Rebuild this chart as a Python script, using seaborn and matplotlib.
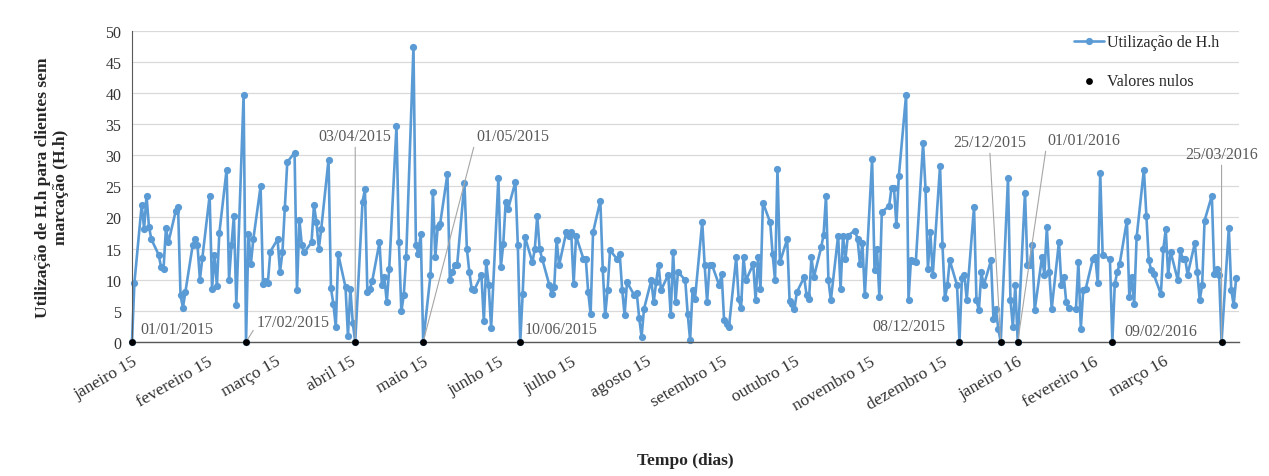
import numpy as np
import pandas as pd
import seaborn as sns
import matplotlib.pyplot as plt

sns.set_style("white")
plt.rcParams['font.family'] = ['Liberation Serif', 'DejaVu Serif']

# Utilizacao de H.h por dia util (seg-sex), um vetor por mes
jan15 = [0, 9.5, 22, 18.2, 23.5, 18.5, 16.5, 14, 12, 11.7, 18.3, 16, 21, 21.7, 7.5, 5.5, 8, 15.5, 16.5, 15.5, 10, 13.5]
fev15 = [23.5, 8.5, 14, 9, 17.5, 27.7, 10, 15.5, 20.3, 6, 39.7, 0, 17.3, 12.5, 16.5, 25, 9.3, 9.8, 9.5, 14.5]
mar15 = [16.5, 11.2, 14.4, 21.5, 28.9, 30.4, 8.3, 19.6, 15.5, 14.4, 16, 22, 19.3, 15, 18.2, 29.3, 8.6, 6.1, 2.4, 14.1, 8.8, 1]
abr15 = [8.5, 3, 0, 22.5, 24.5, 8, 8.5, 9.8, 16, 9.1, 10.4, 6.4, 11.7, 34.7, 16, 4.9, 7.5, 13.6, 47.4, 15.6, 14.1, 17.4]
mai15 = [0, 10.7, 24.1, 13.6, 18.5, 19, 27, 9.9, 11.2, 12.3, 12.4, 25.6, 15, 11.3, 8.5, 8.3, 10.8, 3.3, 12.8, 9.1, 2.2]
jun15 = [26.4, 12, 15.7, 22.5, 21.4, 25.7, 15.6, 0, 7.7, 16.8, 12.8, 14.9, 20.3, 14.9, 13.4, 9.1, 7.7, 8.8, 16.4, 12.3, 17.7, 17.1]
jul15 = [17.6, 9.3, 17, 13.4, 13.4, 8, 4.5, 17.6, 22.7, 11.7, 4.3, 8.4, 14.7, 13.3, 14.1, 8.4, 4.3, 9.6, 7.5, 7.9, 3.9, 0.8, 5.3]
ago15 = [9.9, 6.4, 9.6, 12.4, 8.3, 10.8, 4.3, 14.4, 6.4, 11.3, 9.9, 4.5, 0.3, 8.3, 6.9, 19.3, 12.3, 6.4, 12.3, 12.4, 9.1]
set15 = [10.9, 3.5, 2.9, 2.4, 13.6, 6.9, 5.4, 13.6, 9.9, 12.5, 6.7, 13.6, 8.5, 22.4, 19.2, 14.1, 9.9, 27.8, 12.8, 16.5, 6.6, 6.1]
out15 = [5.3, 8, 10.4, 7.5, 6.9, 13.6, 10.4, 15.2, 17.2, 23.5, 9.9, 6.7, 17.1, 8.5, 17.1, 13.3, 17.1, 17.9, 16.5, 12.5, 15.9, 7.5]
nov15 = [29.4, 11.5, 14.9, 7.2, 20.9, 21.8, 24.8, 24.8, 18.8, 26.6, 39.7, 6.8, 13.1, 13, 12.8, 31.9, 24.6, 11.8, 17.6, 10.8, 28.3]
dez15 = [15.5, 7, 9.1, 13.1, 9.1, 0, 10.2, 10.8, 6.8, 21.7, 6.7, 5.1, 11.2, 9.1, 13.1, 3.7, 5.3, 2.1, 0, 26.3, 6.8, 2.4, 9.1]
jan16 = [0, 24, 12.3, 12.4, 15.5, 5.1, 13.6, 10.8, 18.4, 11.2, 5.3, 16.1, 9.1, 10.4, 6.4, 5.4, 5.3, 12.9, 2.1, 8.3, 8.5]
fev16 = [13.4, 13.6, 9.4, 27.2, 14, 13.3, 0, 9.3, 11.2, 12.5, 19.5, 7.2, 10.4, 6.1, 16.8, 27.7, 20.3, 13.2, 11.5, 10.9, 7.7]
mar16 = [14.9, 18.1, 10.7, 14.5, 9.9, 14.7, 13.4, 13.4, 10.8, 15.9, 11.2, 6.7, 9.1, 19.5, 23.5, 10.9, 11.7, 10.7, 0, 18.3, 8.4, 5.9, 10.2]

meses = ["janeiro 15", "fevereiro 15", "março 15", "abril 15", "maio 15", "junho 15",
         "julho 15", "agosto 15", "setembro 15", "outubro 15", "novembro 15",
         "dezembro 15", "janeiro 16", "fevereiro 16", "março 16"]

nulos = ["01/01/2015", "17/02/2015", "03/04/2015", "01/05/2015", "10/06/2015",
         "08/12/2015", "25/12/2015", "01/01/2016", "09/02/2016", "25/03/2016"]

dias = pd.bdate_range("2015-01-01", "2016-03-31")
valores = (jan15 + fev15 + mar15 + abr15 + mai15 + jun15 + jul15 + ago15 +
           set15 + out15 + nov15 + dez15 + jan16 + fev16 + mar16)
d = pd.DataFrame({"data": dias, "valor": valores})
d0 = d[d["data"].isin(pd.to_datetime(nulos, dayfirst=True))]

azul = "#5B9BD5"
f = plt.figure(figsize=(12.69, 4.77), dpi=100)
ax = f.add_axes([0.104, 0.281, 0.872, 0.6525])

sns.lineplot(data=d, x="data", y="valor", marker="o", color=azul, lw=1.9,
             markersize=5.2, markeredgewidth=0, label="Utilização de H.h", ax=ax)
ax.get_lines()[0].set_clip_on(False)
sns.scatterplot(data=d0, x="data", y="valor", color="black", s=24, linewidth=0,
                zorder=4, clip_on=False, label="Valores nulos", ax=ax)

ax.set_xlim(pd.Timestamp("2015-01-01"), pd.Timestamp("2016-04-01"))
ax.set_ylim(0, 50)
ax.set_yticks(np.arange(0, 51, 5))
ticks = list(pd.date_range("2015-01-01", "2016-04-01", freq="MS"))
ax.set_xticks(ticks)
ax.set_xticklabels(meses + [""], rotation=30, ha="right", rotation_mode="anchor")
ax.tick_params(axis="x", direction="inout", length=8, width=0.8, color="#595959",
               labelsize=12.5, pad=4, labelcolor="#333333")
ax.tick_params(axis="y", direction="out", length=4, width=0.8, color="#595959",
               labelsize=11.5, labelcolor="#333333")
ax.grid(axis="y", color="#d9d9d9", lw=0.9)
ax.set_axisbelow(True)
for s in ["top", "right"]:
    ax.spines[s].set_visible(False)
ax.spines["left"].set_color("#595959")
ax.spines["bottom"].set_color("#595959")
ax.spines["left"].set_linewidth(0.8)
ax.spines["bottom"].set_linewidth(1.0)

ax.set_xlabel("Tempo (dias)", fontsize=12.5, fontweight="bold", labelpad=28)
ax.set_ylabel("Utilização de H.h para clientes sem\nmarcação (H.h)", fontsize=12.5,
              fontweight="bold", labelpad=26)

# rotulos das datas com valor nulo (deslocamento em pixeis)
desloc = [(45, 13, None), (47, 20, (0, 0.3)), (0, 206, (0.5, 0)), (90, 206, (0, 0.5)),
          (41, 13, None), (-51, 16, None), (-11, 200, (0.5, 0)), (66, 202, (0, 0.5)),
          (48, 11, None), (0, 188, (0.5, 0))]
for (dt, y), (dx, dy, rp) in zip(zip(d0["data"], d0["valor"]), desloc):
    seta = None
    if rp is not None:
        seta = dict(arrowstyle="-", color="#a6a6a6", lw=0.8, shrinkA=0, shrinkB=0, relpos=rp)
    ax.annotate(dt.strftime("%d/%m/%Y"), xy=(dt, y), xytext=(dx, dy),
                textcoords="offset pixels", ha="center", va="center",
                fontsize=11.5, color="#595959", arrowprops=seta, annotation_clip=False)

ax.legend(loc="upper left", bbox_to_anchor=(0.838, 1.035), frameon=False,
          fontsize=11.5, handlelength=1.9, labelspacing=1.45, handletextpad=0.2)

f.savefig("out.png", dpi=100, facecolor="white")
